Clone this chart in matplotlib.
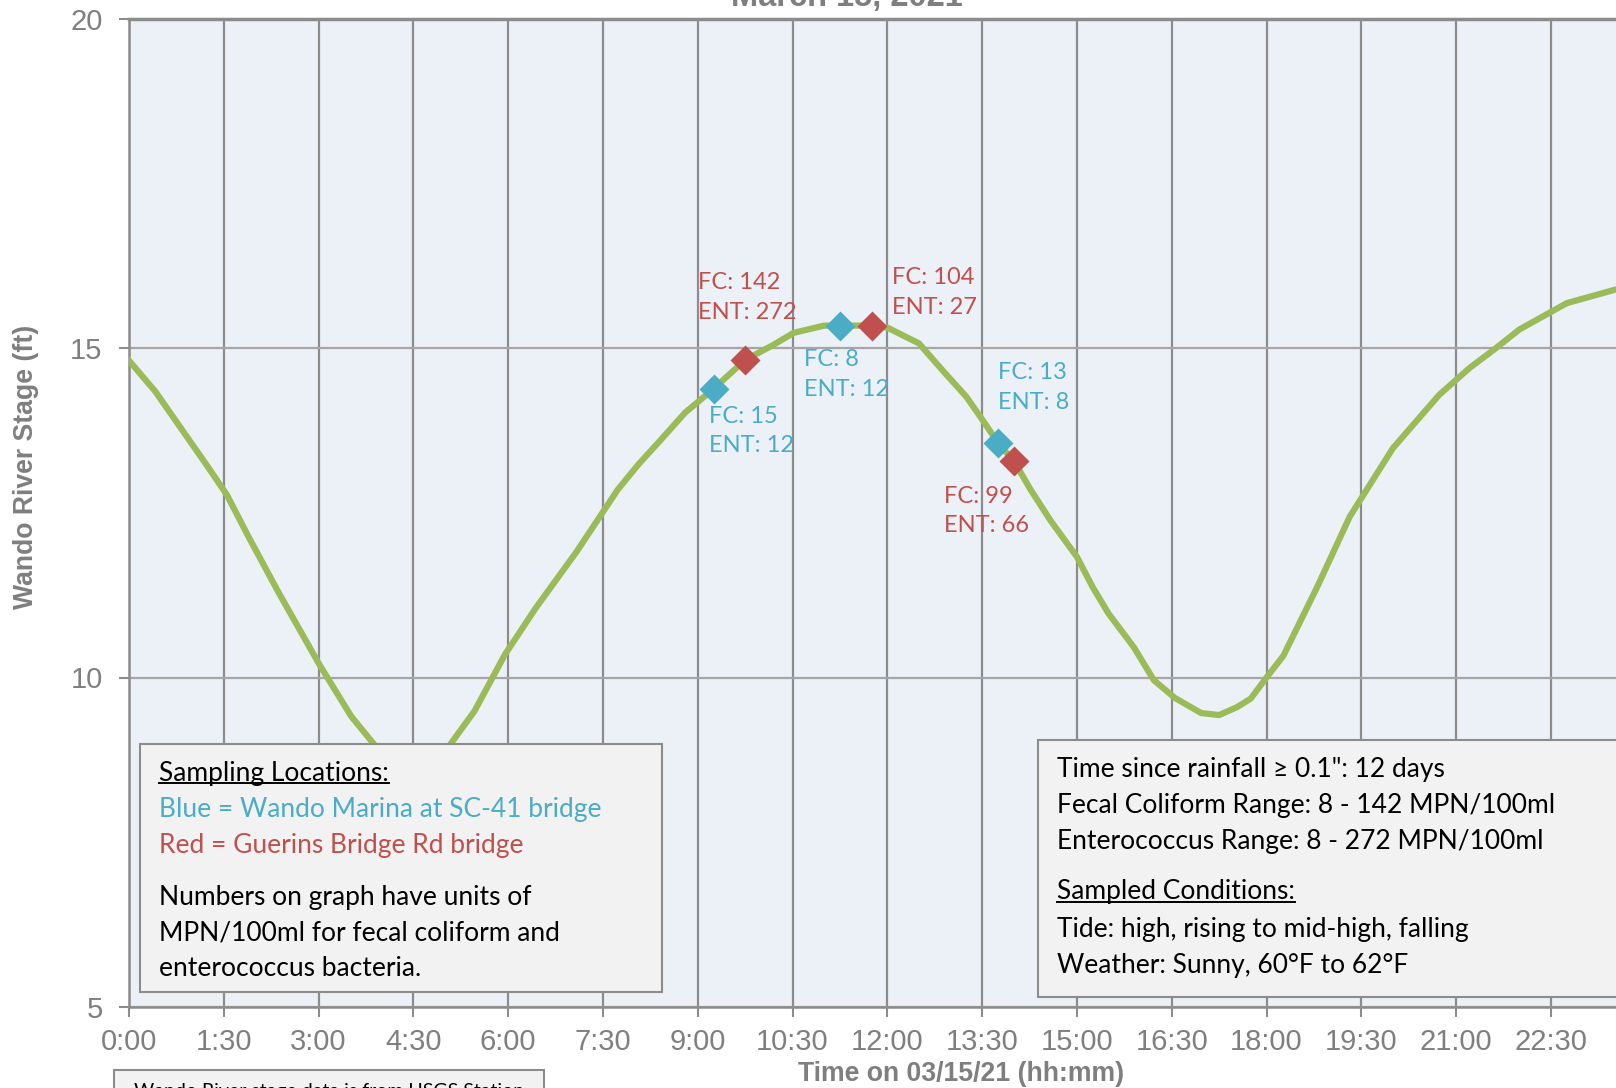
import matplotlib.pyplot as plt
from matplotlib.patches import Rectangle
from matplotlib.lines import Line2D

# Wando River stage, 03/15/21
times = ["0:00", "0:25", "0:49", "1:13", "1:33", "1:53", "2:22", "3:01", "3:31", "3:55",
         "4:15", "4:30", "4:45", "5:03", "5:28", "5:57", "6:26", "7:05", "7:44", "8:04",
         "8:24", "8:48", "9:15", "9:45", "10:11", "10:31", "11:00", "11:15", "11:45", "12:00",
         "12:30", "12:53", "13:15", "13:32", "13:45", "14:00", "14:16", "14:35", "15:00", "15:15",
         "15:30", "15:54", "16:13", "16:33", "16:58", "17:15", "17:32", "17:45", "18:00", "18:16",
         "18:48", "19:19", "19:45", "20:00", "20:44", "21:13", "21:38", "22:00", "22:45", "23:32"]
stage = [14.81, 14.34, 13.79, 13.24, 12.77, 12.15, 11.29, 10.19, 9.41, 8.94,
         8.68, 8.58, 8.68, 8.94, 9.49, 10.35, 11.05, 11.91, 12.85, 13.24,
         13.59, 14.02, 14.38, 14.82, 15.04, 15.23, 15.34, 15.34, 15.34, 15.31,
         15.07, 14.65, 14.26, 13.87, 13.56, 13.29, 12.85, 12.38, 11.83, 11.37,
         10.97, 10.46, 9.96, 9.69, 9.46, 9.43, 9.55, 9.68, 10.00, 10.33,
         11.37, 12.44, 13.10, 13.48, 14.29, 14.70, 15.00, 15.28, 15.68, 15.89]

# samples: blue = Wando Marina, red = Guerins Bridge Rd
blue_times = ["9:15", "11:15", "13:45"]
blue_stage = [14.38, 15.34, 13.56]
blue_fc = [15, 8, 13]
blue_ent = [12, 12, 8]
red_times = ["9:45", "11:45", "14:00"]
red_stage = [14.82, 15.34, 13.29]
red_fc = [142, 104, 99]
red_ent = [272, 27, 66]

tick_labels = ["0:00", "1:30", "3:00", "4:30", "6:00", "7:30", "9:00", "10:30", "12:00",
               "13:30", "15:00", "16:30", "18:00", "19:30", "21:00", "22:30"]


def to_hours(t):
    h, m = t.split(":")
    return int(h) + int(m) / 60


GREEN = "#9BBB59"
BLUE = "#4BACC6"
RED = "#C0504D"
GRAY = "#7F7F7F"
AXFONT = ["Liberation Sans", "DejaVu Sans"]
BOXFONT = ["Lato", "DejaVu Sans"]

W, H = 1616, 1088
fig = plt.figure(figsize=(W / 100, H / 100), dpi=100)
L, B, T = 129 / W, 1 - 1007 / H, 1 - 18.5 / H
ax = fig.add_axes([L, B, 1 - L, T - B])
ax.set_facecolor("#ECF1F8")

x = [to_hours(t) for t in times]
ax.plot(x, stage, color=GREEN, lw=4.5, zorder=3)

bx = [to_hours(t) for t in blue_times]
rx = [to_hours(t) for t in red_times]
ax.plot(bx, blue_stage, "D", color=BLUE, ms=15, mec="none", zorder=4)
ax.plot(rx, red_stage, "D", color=RED, ms=15, mec="none", zorder=4)

# label offsets in points (label top-left relative to marker)
blue_off = [(-3, -12), (-26, -17), (0, 58)]
red_off = [(-34, 63), (15, 42), (-50, -18)]
for xi, yi, fc, ent, off in zip(bx, blue_stage, blue_fc, blue_ent, blue_off):
    ax.annotate(f"FC: {fc}\nENT: {ent}", (xi, yi), xytext=off, textcoords="offset points",
                ha="left", va="top", color=BLUE, fontsize=17, family=BOXFONT,
                linespacing=1.5, zorder=5)
for xi, yi, fc, ent, off in zip(rx, red_stage, red_fc, red_ent, red_off):
    ax.annotate(f"FC: {fc}\nENT: {ent}", (xi, yi), xytext=off, textcoords="offset points",
                ha="left", va="top", color=RED, fontsize=17, family=BOXFONT,
                linespacing=1.5, zorder=5)

ax.set_xlim(0, 23.53)
ax.set_ylim(5, 20)
ax.set_xticks([1.5 * i for i in range(len(tick_labels))])
ax.set_xticklabels(tick_labels)
ax.set_yticks([5, 10, 15, 20])
ax.grid(axis="x", color="#8C8C8C", lw=1.6, zorder=1)
ax.grid(axis="y", color="#A6A6A6", lw=1.6, zorder=1)
ax.set_axisbelow(True)
ax.spines["right"].set_visible(False)
ax.spines["top"].set_color("#8C8C8C")
ax.spines["top"].set_linewidth(2.5)
for s in ["left", "bottom"]:
    ax.spines[s].set_color("#8C8C8C")
    ax.spines[s].set_linewidth(1.8)
ax.tick_params(axis="y", length=7, width=1.5, color="#8C8C8C", pad=12,
               labelsize=21, labelcolor=GRAY)
ax.tick_params(axis="x", length=7, width=1.5, color="#8C8C8C", pad=8,
               labelsize=21, labelcolor=GRAY)
for lab in ax.get_xticklabels() + ax.get_yticklabels():
    lab.set_family(AXFONT)

fig.text(847 / W, 1 - 6 / H, "March 15, 2021", ha="center", va="baseline",
         fontsize=23.5, fontweight="bold", color=GRAY, family=AXFONT)
fig.text(961 / W, 1 - 1074 / H, "Time on 03/15/21 (hh:mm)", ha="center", va="center",
         fontsize=19.2, fontweight="bold", color=GRAY, family=AXFONT)
fig.text(26 / W, 1 - 467 / H, "Wando River Stage (ft)", ha="center", va="center",
         rotation=90, fontsize=19.2, fontweight="bold", color=GRAY, family=AXFONT)


def fig_box(x0, y0, x1, y1):
    fig.patches.append(Rectangle((x0 / W, 1 - y1 / H), (x1 - x0) / W, (y1 - y0) / H,
                                 transform=fig.transFigure, facecolor="#F2F2F2",
                                 edgecolor="#8C8C8C", lw=1.5, zorder=10))


def fig_line(px, py, text, color="black", underline=False, size=19):
    t = fig.text(px / W, 1 - py / H, text, ha="left", va="center", fontsize=size,
                 color=color, family=BOXFONT, zorder=11)
    t._underline = underline
    return t


fig_box(140, 744, 662, 992)
left_lines = [
    ("Sampling Locations:", "black", True, 773),
    ("Blue = Wando Marina at SC-41 bridge", BLUE, False, 809),
    ("Red = Guerins Bridge Rd bridge", RED, False, 845),
    ("Numbers on graph have units of", "black", False, 897),
    ("MPN/100ml for fecal coliform and", "black", False, 933),
    ("enterococcus bacteria.", "black", False, 969),
]
texts = []
for txt, c, u, py in left_lines:
    texts.append(fig_line(159, py, txt, c, u))

fig_box(1038, 740, 1630, 997)
right_lines = [
    ("Time since rainfall \u2265 0.1\": 12 days", "black", False, 769),
    ("Fecal Coliform Range: 8 - 142 MPN/100ml", "black", False, 805),
    ("Enterococcus Range: 8 - 272 MPN/100ml", "black", False, 841),
    ("Sampled Conditions:", "black", True, 892),
    ("Tide: high, rising to mid-high, falling", "black", False, 929),
    ("Weather: Sunny, 60\u00b0F to 62\u00b0F", "black", False, 965),
]
for txt, c, u, py in right_lines:
    texts.append(fig_line(1057, py, txt, c, u))

fig_box(114, 1070, 544, 1120)
fig.text(134 / W, 1 - 1083 / H, "Wando River stage data is from USGS Station", ha="left",
         va="top", fontsize=14, color="black", family=BOXFONT, zorder=11)

# underline the headings
fig.canvas.draw()
r = fig.canvas.get_renderer()
for t in texts:
    if t._underline:
        bb = t.get_window_extent(r)
        yb = bb.y0 + 3
        fig.add_artist(Line2D([bb.x0 / W, bb.x1 / W], [yb / H, yb / H], color="black",
                              lw=1.4, transform=fig.transFigure, zorder=12))

fig.savefig("out.png", dpi=100)
